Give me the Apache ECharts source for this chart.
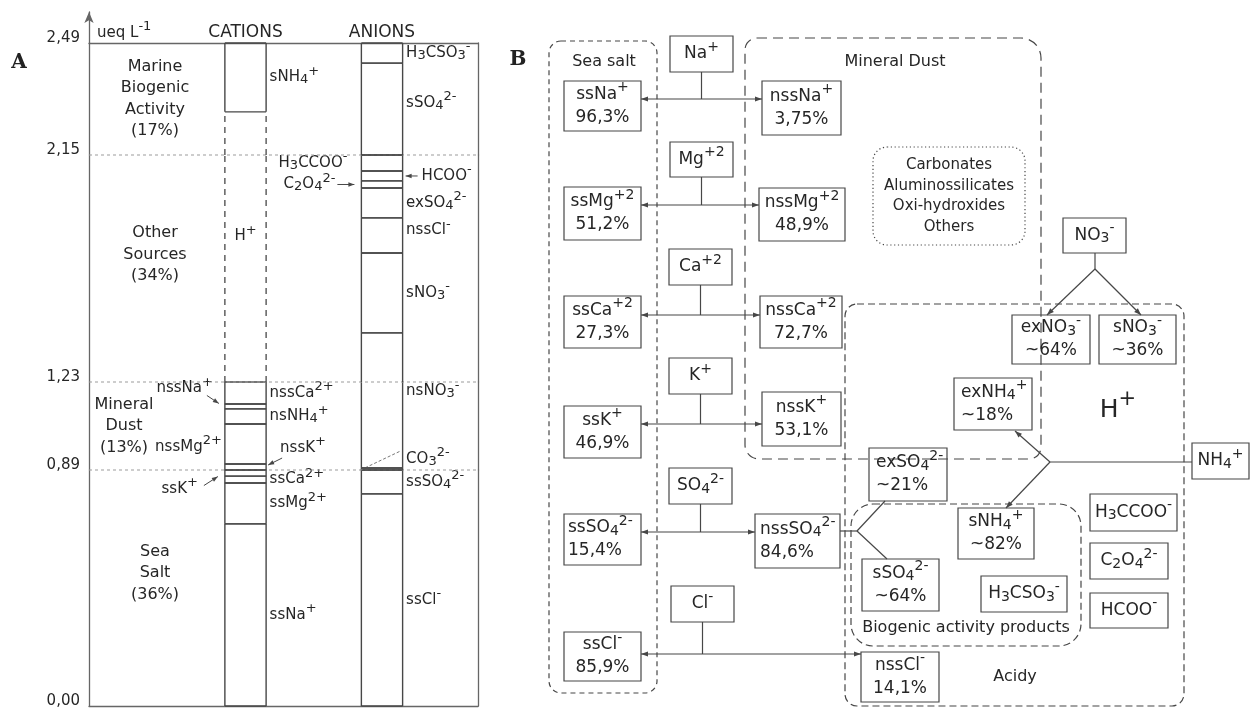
<!DOCTYPE html>
<html>
<head>
<meta charset="utf-8">
<title>Ion balance and sources</title>
<script src="https://cdn.jsdelivr.net/npm/echarts@6.0.0/dist/echarts.min.js"></script>
<style>
  html, body { margin: 0; padding: 0; background: #ffffff; }
  #chart { width: 1250px; height: 709px; }
</style>
</head>
<body>
<div id="chart"></div>
<script>
// ---------------- Panel A: stacked ion equivalents (ueq L-1) ----------------
const bandEdges = [0, 0.89, 1.23, 2.15, 2.49];
const bandTickLabels = ['0,00', '0,89', '1,23', '2,15', '2,49'];
const sourceGroups = ['Sea\nSalt\n(36%)', 'Mineral\nDust\n(13%)', 'Other\nSources\n(34%)', 'Marine\nBiogenic\nActivity\n(17%)'];
const columnTitles = ['CATIONS', 'ANIONS'];

// cumulative tops of each cation, bottom to top
const cationNames = ['ssNa^{+}', 'ssMg^{2+}', 'ssCa^{2+}', 'ssK^{+}', 'nssK^{+}', 'nssMg^{2+}',
  'nsNH_{4}^{+}', 'nssNa^{+}', 'nssCa^{2+}', 'H^{+}', 'sNH_{4}^{+}'];
const cationTops = [0.687, 0.841, 0.867, 0.89, 0.913, 1.068, 1.126, 1.145, 1.23, 2.281, 2.49];

// cumulative tops of each anion, bottom to top
const anionNames = ['ssCl^{-}', 'ssSO_{4}^{2-}', 'CO_{3}^{2-}', 'nsNO_{3}^{-}', 'sNO_{3}^{-}', 'nssCl^{-}',
  'exSO_{4}^{2-}', 'C_{2}O_{4}^{2-}', 'HCOO^{-}', 'H_{3}CCOO^{-}', 'sSO_{4}^{2-}', 'H_{3}CSO_{3}^{-}'];
const anionTops = [0.800, 0.89, 0.898, 1.429, 1.753, 1.895, 2.016, 2.045, 2.085, 2.15, 2.429, 2.49];

// unassigned acidity is drawn with open (dashed) sides
const openIons = ['H^{+}'];

// ---------------- Panel B: source apportionment scheme ----------------
const ions = ['Na^{+}', 'Mg^{+2}', 'Ca^{+2}', 'K^{+}', 'SO_{4}^{2-}', 'Cl^{-}'];
const seaSaltIons = ['ssNa^{+}', 'ssMg^{+2}', 'ssCa^{+2}', 'ssK^{+}', 'ssSO_{4}^{2-}', 'ssCl^{-}'];
const seaSaltPct = [96.3, 51.2, 27.3, 46.9, 15.4, 85.9];
const nonSeaSaltIons = ['nssNa^{+}', 'nssMg^{+2}', 'nssCa^{+2}', 'nssK^{+}', 'nssSO_{4}^{2-}', 'nssCl^{-}'];
const nonSeaSaltPct = [3.75, 48.9, 72.7, 53.1, 84.6, 14.1];

const nitrateParts = ['exNO_{3}^{-}', 'sNO_{3}^{-}'];
const nitratePct = [64, 36];
const ammoniumParts = ['exNH_{4}^{+}', 'sNH_{4}^{+}'];
const ammoniumPct = [18, 82];
const sulfateParts = ['exSO_{4}^{2-}', 'sSO_{4}^{2-}'];
const sulfatePct = [21, 64];
const organicAcids = ['H_{3}CCOO^{-}', 'C_{2}O_{4}^{2-}', 'HCOO^{-}'];
const biogenicSpecies = ['H_{3}CSO_{3}^{-}'];
const mineralPhases = ['Carbonates', 'Aluminossilicates', 'Oxi-hydroxides', 'Others'];
const groupTitles = ['Sea salt', 'Mineral Dust', 'Biogenic activity products', 'Acidy'];

// ---------------- styling / layout ----------------
const FONT = '"DejaVu Sans", Verdana, sans-serif';
const INK = '#262626';
const LINE = '#474747';

const plotLeft = 89, plotWidth = 389;
const bandPx = [707, 470, 382, 155, 43];     // screen rows of the band edges
const colX = [0.4023, 0.7532];                // column centres (x axis units)
const colHalf = 0.053;
const sourceLayout = [{x: 0.1697, dy: -15}, {x: 0.09, dy: 0}, {x: 0.1697, dy: -14}, {x: 0.1697, dy: 0}];
const labelLayoutA = {
  'ssK^{+}': {side: 'l', dx: -27, dy: 16, arrow: [[-21, 12.5], [-7, 3.5]]},
  'nssK^{+}': {side: 'r', dx: 14, dy: -19, arrow: [[16, -9], [2, -2]]},
  'nssMg^{2+}': {side: 'l', dx: -3, dy: 3},
  'nssNa^{+}': {side: 'l', dx: -12, dy: -18, arrow: [[-18, -11], [-6, -3]]},
  'H^{+}': {side: 'c', dy: -16},
  'CO_{3}^{2-}': {side: 'r', dy: -10, leader: [[-42, 1], [-2, -18]]},
  'nsNO_{3}^{-}': {dy: -8},
  'nssCl^{-}': {dy: -5},
  'sSO_{4}^{2-}': {dy: -6},
  'C_{2}O_{4}^{2-}': {side: 'l', dx: -26, arrow: [[-24, 0], [-7, 0]]},
  'HCOO^{-}': {side: 'r', dx: 19, arrow: [[15, 0], [3, 0]]},
  'H_{3}CCOO^{-}': {side: 'l', dx: -14}
};

const layoutB = {
  regions: [
    {box: [549, 41, 657, 693], r: 12, dash: [5, 4]},
    {box: [745, 38, 1041, 459], r: [12, 20, 12, 14], dash: [10, 6]},
    {box: [873, 147, 1025, 245], r: 14, dash: [1.2, 2.6]},
    {box: [845, 304, 1184, 706], r: 12, dash: [7, 4]},
    {box: [851, 504, 1081, 646], r: 22, dash: [7, 4]}
  ],
  titles: [[604, 62], [895, 62], [966, 628], [1015, 677]],
  phasesAt: [949, 196],
  acidAt: [1118, 410],
  rows: [
    {src: [670, 36, 733, 72], ss: [564, 81, 641, 131], nss: [762, 81, 841, 135], y: 99},
    {src: [670, 142, 733, 177], ss: [564, 187, 641, 240], nss: [759, 188, 845, 241], y: 205},
    {src: [669, 249, 732, 285], ss: [564, 296, 641, 348], nss: [760, 296, 842, 348], y: 315},
    {src: [669, 358, 732, 394], ss: [564, 406, 641, 458], nss: [762, 392, 841, 446], y: 424},
    {src: [669, 468, 732, 504], ss: [564, 514, 641, 565], nss: [755, 514, 840, 568], y: 532, ssAlign: 'left', nssAlign: 'left'},
    {src: [671, 586, 734, 622], ss: [564, 632, 641, 681], nss: [861, 652, 939, 702], y: 654}
  ],
  nitrate: {src: [1063, 218, 1126, 253], parts: [[1012, 315, 1090, 364], [1099, 315, 1176, 364]],
    links: [[[1095, 253], [1095, 269]], [[1095, 269], [1047, 315]], [[1095, 269], [1141, 315]]], heads: [[], ['end'], ['end']]},
  ammonium: {src: [1192, 443, 1249, 479], parts: [[954, 378, 1032, 430], [958, 508, 1034, 559]], aligns: ['left', 'center'],
    links: [[[1192, 462], [1050, 462]], [[1050, 462], [1015, 431]], [[1050, 462], [1006, 508]]], heads: [[], ['end'], ['end']]},
  sulfate: {parts: [[869, 448, 947, 501], [862, 559, 939, 611]], aligns: ['left', 'center'],
    links: [[[840, 531], [857, 531]], [[857, 531], [885, 501]], [[857, 531], [887, 559]]]},
  organics: [[1090, 494, 1177, 531], [1090, 543, 1168, 579], [1090, 593, 1168, 628]],
  biogenic: [[981, 576, 1067, 612]]
};

// ---------------- text helpers ----------------
function toRich(markup) {
  return markup.split('\n').map(function (line) {
    let out = '', last = 0, m;
    const re = /([_^])\{([^}]*)\}/g;
    while ((m = re.exec(line))) {
      if (m.index > last) out += '{n|' + line.slice(last, m.index) + '}';
      out += '{' + (m[1] === '^' ? 'sup' : 'sub') + '|' + m[2] + '}';
      last = re.lastIndex;
    }
    if (last < line.length) out += '{n|' + line.slice(last) + '}';
    return out;
  }).join('\n');
}
function richSet(size, lh) {
  const base = {fontFamily: FONT, fill: INK, lineHeight: lh};
  return {
    n: Object.assign({fontSize: size}, base),
    sup: Object.assign({fontSize: Math.round(size * 0.84), padding: [0, 0, Math.round(size * 0.8), 0]}, base),
    sub: Object.assign({fontSize: Math.round(size * 0.84), padding: [Math.round(size * 0.36), 0, 0, 0]}, base)
  };
}
const RA = richSet(15, 20);
const RSRC = richSet(16, 21.5);
const RHEAD = richSet(17, 20);
const RB = richSet(17, 23);
const RT = richSet(16, 20);
const RPH = richSet(15, 20.5);
const RH = richSet(25, 30);
const pct = v => String(v).replace('.', ',') + '%';
const approx = v => '~' + v + '%';

function textEl(markup, x, y, rich, align) {
  return {type: 'text', x: x, y: y, style: {text: toRich(markup), align: align || 'center', verticalAlign: 'middle', rich: rich, fill: INK, fontFamily: FONT}};
}
function seg(x1, y1, x2, y2, style) {
  return {type: 'line', shape: {x1: x1, y1: y1, x2: x2, y2: y2}, style: style};
}
function arrowHead(from, tip, len, hw) {
  const dx = tip[0] - from[0], dy = tip[1] - from[1], d = Math.hypot(dx, dy) || 1;
  const ux = dx / d, uy = dy / d, bx = tip[0] - ux * len, by = tip[1] - uy * len;
  return {type: 'polygon', shape: {points: [tip, [bx - uy * hw, by + ux * hw], [bx + uy * hw, by - ux * hw]]}, style: {fill: LINE}};
}

// ---------------- Panel A series ----------------
const columnSegments = [];
[cationNames, anionNames].forEach(function (names, col) {
  const tops = col ? anionTops : cationTops;
  names.forEach(function (name, k) {
    columnSegments.push({kind: 'ion', col: col, name: name, lo: k ? tops[k - 1] : 0, hi: tops[k], open: openIons.indexOf(name) >= 0});
  });
});
const bandItems = [{kind: 'sep'}, {kind: 'source'}, {kind: 'head'}].concat(columnSegments);

function bandRenderer(b) {
  const bmin = bandEdges[b], bmax = bandEdges[b + 1];
  return function (params, api) {
    const item = bandItems[params.dataIndex];
    const P = (x, v) => api.coord([x, v]);
    const ch = [];
    if (item.kind === 'sep') {
      if (b > 0) {
        const a = P(0, bmin), c = P(1, bmin);
        ch.push(seg(a[0], a[1], c[0], c[1], {stroke: '#9c9c9c', lineWidth: 1, lineDash: [3, 3]}));
      }
      return {type: 'group', children: ch};
    }
    if (item.kind === 'source') {
      const sl = sourceLayout[b];
      const p = P(sl.x, (bmin + bmax) / 2);
      ch.push(textEl(sourceGroups[b], p[0], p[1] + sl.dy, RSRC));
      return {type: 'group', children: ch};
    }
    if (item.kind === 'head') {
      if (b === 3) {
        columnTitles.forEach(function (t, c) {
          const p = P(colX[c], bmax);
          ch.push(textEl(t, p[0], p[1] - 10, RHEAD));
        });
      }
      return {type: 'group', children: ch};
    }
    const cx = colX[item.col], xl = cx - colHalf, xr = cx + colHalf;
    const lo = Math.max(item.lo, bmin), hi = Math.min(item.hi, bmax);
    const solid = {stroke: LINE, lineWidth: 1.4};
    if (lo < hi) {
      const pLo = P(xl, lo), pHi = P(xr, hi);
      const X0 = pLo[0], X1 = pHi[0], Y0 = pLo[1], Y1 = pHi[1];
      const side = item.open ? {stroke: LINE, lineWidth: 1.3, lineDash: [6, 5]} : solid;
      ch.push(seg(X0, Y0, X0, Y1, side), seg(X1, Y0, X1, Y1, side));
      if (!item.open) {
        if (item.lo >= bmin) ch.push(seg(X0, Y0, X1, Y0, solid));
        if (item.hi <= bmax) ch.push(seg(X0, Y1, X1, Y1, solid));
      }
    }
    const mid = (item.lo + item.hi) / 2;
    if (mid >= bmin && mid < bmax) {
      const L = labelLayoutA[item.name] || {};
      const sideName = L.side || 'r';
      const midY = P(cx, mid)[1];
      const edgeX = sideName === 'l' ? P(xl, mid)[0] : sideName === 'r' ? P(xr, mid)[0] : P(cx, mid)[0];
      const dx = L.dx != null ? L.dx : (sideName === 'l' ? -3 : sideName === 'r' ? 3.5 : 0);
      const align = sideName === 'l' ? 'right' : sideName === 'r' ? 'left' : 'center';
      ch.push(textEl(item.name, edgeX + dx, midY + (L.dy || 0), RA, align));
      if (L.arrow) {
        const f = [edgeX + L.arrow[0][0], midY + L.arrow[0][1]], t = [edgeX + L.arrow[1][0], midY + L.arrow[1][1]];
        ch.push(seg(f[0], f[1], t[0], t[1], {stroke: LINE, lineWidth: 1}));
        ch.push(arrowHead(f, t, 6, 2.2));
      }
      if (L.leader) {
        ch.push(seg(edgeX + L.leader[0][0], midY + L.leader[0][1], edgeX + L.leader[1][0], midY + L.leader[1][1],
          {stroke: '#777', lineWidth: 1, lineDash: [3, 2]}));
      }
    }
    return {type: 'group', children: ch};
  };
}

// ---------------- Panel B elements ----------------
const elemsB = [];
layoutB.regions.forEach(r => elemsB.push(Object.assign({kind: 'region'}, r)));
groupTitles.forEach((t, i) => elemsB.push({kind: 'label', text: t, at: layoutB.titles[i], rich: RT}));
elemsB.push({kind: 'label', text: mineralPhases.join('\n'), at: layoutB.phasesAt, rich: RPH});
elemsB.push({kind: 'label', text: 'H^{+}', at: layoutB.acidAt, rich: RH});

ions.forEach(function (ion, k) {
  const R = layoutB.rows[k];
  const cx = (R.src[0] + R.src[2]) / 2;
  elemsB.push({kind: 'path', pts: [[cx, R.src[3]], [cx, R.y]], heads: []});
  elemsB.push({kind: 'path', pts: [[R.ss[2], R.y], [R.nss[0], R.y]], heads: ['start', 'end']});
  elemsB.push({kind: 'box', box: R.src, text: ion});
  elemsB.push({kind: 'box', box: R.ss, text: seaSaltIons[k] + '\n' + pct(seaSaltPct[k]), align: R.ssAlign, pad: 4});
  elemsB.push({kind: 'box', box: R.nss, text: nonSeaSaltIons[k] + '\n' + pct(nonSeaSaltPct[k]), align: R.nssAlign, pad: 5});
});

// nitrate split
layoutB.nitrate.links.forEach((l, i) => elemsB.push({kind: 'path', pts: l, heads: layoutB.nitrate.heads[i]}));
elemsB.push({kind: 'box', box: layoutB.nitrate.src, text: 'NO_{3}^{-}'});
nitrateParts.forEach((n, i) => elemsB.push({kind: 'box', box: layoutB.nitrate.parts[i], text: n + '\n' + approx(nitratePct[i])}));
// ammonium split
layoutB.ammonium.links.forEach((l, i) => elemsB.push({kind: 'path', pts: l, heads: layoutB.ammonium.heads[i]}));
elemsB.push({kind: 'box', box: layoutB.ammonium.src, text: 'NH_{4}^{+}'});
ammoniumParts.forEach((n, i) => elemsB.push({kind: 'box', box: layoutB.ammonium.parts[i], text: n + '\n' + approx(ammoniumPct[i]), align: layoutB.ammonium.aligns[i], pad: 7}));
// non-sea-salt sulfate split
layoutB.sulfate.links.forEach(l => elemsB.push({kind: 'path', pts: l, heads: []}));
sulfateParts.forEach((n, i) => elemsB.push({kind: 'box', box: layoutB.sulfate.parts[i], text: n + '\n' + approx(sulfatePct[i]), align: layoutB.sulfate.aligns[i], pad: 7}));
// other acidic species
organicAcids.forEach((n, i) => elemsB.push({kind: 'box', box: layoutB.organics[i], text: n}));
biogenicSpecies.forEach((n, i) => elemsB.push({kind: 'box', box: layoutB.biogenic[i], text: n}));

function renderPanelB(params, api) {
  const e = elemsB[params.dataIndex];
  const P = p => api.coord(p);
  if (e.kind === 'region' || e.kind === 'box') {
    const a = P([e.box[0], e.box[1]]), c = P([e.box[2], e.box[3]]);
    const rect = {type: 'rect', shape: {x: a[0], y: a[1], width: c[0] - a[0], height: c[1] - a[1], r: e.r || 0},
      style: {fill: 'none', stroke: LINE, lineWidth: 1.2, lineDash: e.dash}};
    if (e.kind === 'region') return rect;
    const left = e.align === 'left';
    return {type: 'group', children: [rect,
      textEl(e.text, left ? a[0] + e.pad : (a[0] + c[0]) / 2, (a[1] + c[1]) / 2, RB, left ? 'left' : 'center')]};
  }
  if (e.kind === 'label') {
    const p = P(e.at);
    return textEl(e.text, p[0], p[1], e.rich);
  }
  const pts = e.pts.map(P);
  const ch = [{type: 'polyline', shape: {points: pts}, style: {fill: 'none', stroke: LINE, lineWidth: 1.2}}];
  if (e.heads.indexOf('start') >= 0) ch.push(arrowHead(pts[1], pts[0], 7, 2.6));
  if (e.heads.indexOf('end') >= 0) ch.push(arrowHead(pts[pts.length - 2], pts[pts.length - 1], 7, 2.6));
  return {type: 'group', children: ch};
}

// ---------------- assemble option ----------------
const grids = [], xAxes = [], yAxes = [], series = [];
const axisLineStyle = {color: '#666', width: 1.3};
for (let b = 0; b < 4; b++) {
  grids.push({left: plotLeft, width: plotWidth, top: bandPx[b + 1], height: bandPx[b] - bandPx[b + 1]});
  xAxes.push({
    gridIndex: b, type: 'value', min: 0, max: 1, position: b === 3 ? 'top' : 'bottom',
    axisLine: {show: b === 0 || b === 3, onZero: false, lineStyle: axisLineStyle},
    axisTick: {show: false}, axisLabel: {show: false}, splitLine: {show: false}
  });
  yAxes.push({
    gridIndex: b, type: 'value', min: bandEdges[b], max: bandEdges[b + 1], position: 'left',
    axisLine: {show: true, onZero: false, lineStyle: axisLineStyle},
    axisTick: {show: false}, splitLine: {show: false},
    axisLabel: {
      show: true, customValues: b === 3 ? [bandEdges[3], bandEdges[4]] : [bandEdges[b]],
      formatter: v => bandTickLabels[bandEdges.indexOf(v)],
      margin: 9, fontSize: 15, fontFamily: FONT, color: INK, verticalAlign: 'bottom', lineHeight: 9
    }
  });
  yAxes.push({
    gridIndex: b, type: 'value', min: bandEdges[b], max: bandEdges[b + 1], position: 'right',
    axisLine: {show: true, onZero: false, lineStyle: axisLineStyle},
    axisTick: {show: false}, axisLabel: {show: false}, splitLine: {show: false}
  });
  series.push({
    type: 'custom', xAxisIndex: b, yAxisIndex: 2 * b, silent: true, animation: false,
    renderItem: bandRenderer(b),
    data: bandItems.map(() => [0.5, (bandEdges[b] + bandEdges[b + 1]) / 2])
  });
}
// axis arrow above the top band
grids.push({left: plotLeft, width: plotWidth, top: 12, height: bandPx[4] - 12});
xAxes.push({gridIndex: 4, type: 'value', min: 0, max: 1, show: false});
yAxes.push({
  gridIndex: 4, type: 'value', min: 0, max: 1, position: 'left',
  axisLine: {show: true, onZero: false, symbol: ['none', 'arrow'], symbolSize: [7, 11], lineStyle: axisLineStyle},
  axisTick: {show: false}, axisLabel: {show: false}, splitLine: {show: false}
});
// panel B canvas (layout units = page pixels)
grids.push({left: 0, top: 0, width: 1250, height: 709});
xAxes.push({gridIndex: 5, type: 'value', min: 0, max: 1250, show: false});
yAxes.push({gridIndex: 5, type: 'value', min: 0, max: 709, inverse: true, show: false});
series.push({
  type: 'custom', xAxisIndex: 5, yAxisIndex: 9, silent: true, animation: false,
  renderItem: renderPanelB,
  data: elemsB.map(() => [600, 350])
});

const option = {
  backgroundColor: '#ffffff',
  animation: false,
  grid: grids,
  xAxis: xAxes,
  yAxis: yAxes,
  series: series,
  graphic: [
    {type: 'text', x: 19, y: 63, style: {text: 'A', font: 'bold 20px "DejaVu Serif", serif', fill: '#222', align: 'center', verticalAlign: 'middle'}},
    {type: 'text', x: 518, y: 60, style: {text: 'B', font: 'bold 20px "DejaVu Serif", serif', fill: '#222', align: 'center', verticalAlign: 'middle'}},
    {type: 'text', x: 97, y: 33, style: {text: toRich('ueq L^{-1}'), rich: RA, align: 'left', verticalAlign: 'middle'}}
  ]
};

const chart = echarts.init(document.getElementById('chart'), null, {renderer: 'canvas'});
chart.setOption(option);
</script>
</body>
</html>
